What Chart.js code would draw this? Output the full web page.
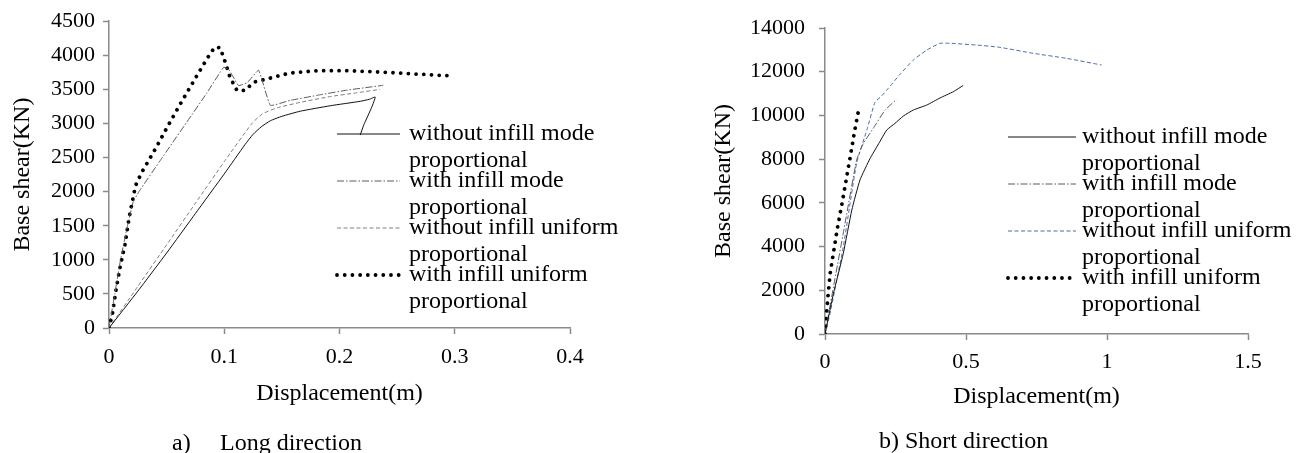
<!DOCTYPE html>
<html>
<head>
<meta charset="utf-8">
<script src="https://cdn.jsdelivr.net/npm/chart.js@4.4.1/dist/chart.umd.min.js"></script>
<style>
  html, body { margin: 0; padding: 0; background: #fff; }
  #wrap { position: relative; width: 1307px; height: 453px; overflow: hidden;
          font-family: "Liberation Serif", "Times New Roman", serif; }
  canvas { position: absolute; top: 0; }
  .cap { position: absolute; font-size: 24px; line-height: 24px; color: #000; white-space: pre; }
</style>
</head>
<body>
<div id="wrap">
  <canvas id="longChart" width="650" height="453" style="left:0px"></canvas>
  <canvas id="shortChart" width="657" height="453" style="left:650px"></canvas>
  <div class="cap" style="left:172px;top:430px">a)</div>
  <div class="cap" style="left:220px;top:430px">Long direction</div>
  <div class="cap" style="left:879px;top:428px">b) Short direction</div>
</div>
<script>
// ---- series names (legend, two lines each) ----
const seriesLabels = [
  ['without infill mode', 'proportional'],
  ['with infill mode', 'proportional'],
  ['without infill uniform', 'proportional'],
  ['with infill uniform', 'proportional']
];

// ---- a) Long direction: displacement (m) / base shear (KN) ----
const longXTicks = [0, 0.1, 0.2, 0.3, 0.4];
const longYTicks = [0, 500, 1000, 1500, 2000, 2500, 3000, 3500, 4000, 4500];

const longWoModeX = [0, 0.025, 0.05, 0.075, 0.1, 0.118, 0.125, 0.132, 0.14, 0.15, 0.166, 0.192, 0.218, 0.226, 0.231, 0.228, 0.221, 0.218];
const longWoModeY = [0, 540, 1100, 1680, 2260, 2690, 2840, 2950, 3040, 3105, 3180, 3260, 3325, 3355, 3387, 3240, 2975, 2830];

const longWiModeX = [0, 0.005, 0.01, 0.016, 0.021, 0.026, 0.045, 0.0675, 0.085, 0.0994, 0.104, 0.1124, 0.12, 0.1298, 0.14, 0.157, 0.183, 0.207, 0.238];
const longWiModeY = [0, 500, 1000, 1500, 1850, 2000, 2470, 3020, 3450, 3823, 3790, 3556, 3600, 3780, 3266, 3338, 3420, 3490, 3560];

const longWoUniX = [0, 0.025, 0.05, 0.075, 0.1, 0.124, 0.133, 0.146, 0.166, 0.192, 0.215, 0.235];
const longWoUniY = [0, 610, 1220, 1830, 2440, 3000, 3140, 3230, 3310, 3395, 3450, 3500];

const longWiUniX = [0, 0.003, 0.006, 0.0096, 0.0139, 0.0177, 0.0203, 0.023, 0.028, 0.04, 0.051, 0.062, 0.079, 0.088, 0.092, 0.0965, 0.1009, 0.105, 0.111, 0.118, 0.1255, 0.137, 0.157, 0.181, 0.207, 0.24, 0.265, 0.294];
const longWiUniY = [0, 213, 552, 891, 1231, 1642, 1860, 2088, 2270, 2620, 2960, 3290, 3780, 4030, 4120, 4110, 3895, 3677, 3484, 3484, 3605, 3653, 3740, 3774, 3774, 3750, 3726, 3700];

// ---- b) Short direction ----
const shortXTicks = [0, 0.5, 1, 1.5];
const shortYTicks = [0, 2000, 4000, 6000, 8000, 10000, 12000, 14000];

const shortWoModeX = [0, 0.03, 0.065, 0.095, 0.124, 0.16, 0.19, 0.219, 0.248, 0.278, 0.313, 0.361, 0.408, 0.455, 0.49];
const shortWoModeY = [0, 1860, 3690, 5670, 7045, 8036, 8700, 9332, 9637, 9973, 10247, 10476, 10800, 11086, 11370];

const shortWiModeX = [0, 0.03, 0.066, 0.112, 0.136, 0.171, 0.213, 0.254];
const shortWiModeY = [0, 2150, 4700, 7960, 8724, 9408, 10247, 10737];

const shortWoUniX = [0, 0.018, 0.065, 0.112, 0.15, 0.177, 0.2, 0.225, 0.266, 0.313, 0.361, 0.408, 0.443, 0.538, 0.62, 0.739, 0.857, 0.981];
const shortWoUniY = [0, 950, 3995, 7808, 9400, 10600, 10880, 11250, 11880, 12534, 12992, 13298, 13300, 13220, 13115, 12840, 12611, 12306];

const shortWiUniX = [0, 0.005, 0.01, 0.018, 0.03, 0.044, 0.06, 0.075, 0.09, 0.105, 0.122];
const shortWiUniY = [0, 800, 1650, 2750, 3720, 4850, 5950, 7050, 8150, 9280, 10450];

// ---- drawing ----
const SERIF = '"Liberation Serif", "Times New Roman", serif';
const AXIS = '#8a8a8a';

function points(xs, ys) { return xs.map((x, i) => ({ x: x, y: ys[i] })); }

// line styles for the four curves: solid, dash-dot, dashed, dotted
function seriesStyles(dashColor) {
  return [
    { borderColor: '#111', borderWidth: 1, borderDash: [], tension: 0.15 },
    { borderColor: '#5a5a5a', borderWidth: 1, borderDash: [7, 2, 1.5, 2], tension: 0.1 },
    { borderColor: dashColor, borderWidth: 1, borderDash: [4, 2.5], tension: 0.15 },
    { borderColor: '#000', borderWidth: 3.8, borderDash: [0.01, 7.7], borderCapStyle: 'round', tension: 0 }
  ];
}

function makeDatasets(seriesXY, dashColor) {
  const styles = seriesStyles(dashColor);
  return seriesXY.map((s, i) => Object.assign({
    label: seriesLabels[i].join(' '),
    data: points(s[0], s[1]),
    showLine: true,
    fill: false,
    pointRadius: 0,
    pointHoverRadius: 0
  }, styles[i]));
}

// legend: a sample line per series followed by its wrapped name
const seriesLegend = {
  id: 'seriesLegend',
  afterDraw(chart, args, opts) {
    const ctx = chart.ctx;
    ctx.save();
    ctx.font = opts.fontSize + 'px ' + SERIF;
    ctx.fillStyle = '#000';
    ctx.textBaseline = 'middle';
    ctx.textAlign = 'left';
    chart.data.datasets.forEach((ds, i) => {
      const y = opts.top + i * opts.entryGap;
      ctx.save();
      ctx.strokeStyle = ds.borderColor;
      ctx.lineWidth = ds.borderWidth;
      ctx.lineCap = ds.borderCapStyle || 'butt';
      ctx.setLineDash(ds.borderDash || []);
      ctx.beginPath();
      ctx.moveTo(opts.lineX0, y);
      ctx.lineTo(opts.lineX1, y);
      ctx.stroke();
      ctx.restore();
      seriesLabels[i].forEach((t, k) => ctx.fillText(t, opts.textX, y + k * opts.lineGap));
    });
    ctx.restore();
  }
};

function makeChart(id, cfg) {
  return new Chart(document.getElementById(id), {
    type: 'scatter',
    data: { datasets: makeDatasets(cfg.series, cfg.dashColor) },
    plugins: [seriesLegend],
    options: {
      responsive: false,
      animation: false,
      events: [],
      layout: { autoPadding: false, padding: cfg.padding },
      plugins: {
        legend: { display: false },
        tooltip: { enabled: false },
        seriesLegend: cfg.legend
      },
      scales: {
        x: {
          type: 'linear',
          min: cfg.xTicks[0],
          max: cfg.xTicks[cfg.xTicks.length - 1],
          afterBuildTicks: s => { s.ticks = cfg.xTicks.map(v => ({ value: v })); },
          afterFit: s => { s.height = cfg.xHeight; },
          ticks: { font: { family: SERIF, size: 22 }, color: '#000', padding: cfg.xTickPad,
                   maxRotation: 0, autoSkip: false, callback: v => String(v) },
          grid: { drawOnChartArea: false, drawTicks: true, tickLength: 6, tickColor: AXIS, tickWidth: 1.5 },
          border: { color: AXIS, width: 1.5 },
          title: { display: true, text: 'Displacement(m)', color: '#000',
                   font: { family: SERIF, size: 24 }, padding: { top: 0, bottom: cfg.xTitlePad } }
        },
        y: {
          type: 'linear',
          min: cfg.yTicks[0],
          max: cfg.yTicks[cfg.yTicks.length - 1],
          afterBuildTicks: s => { s.ticks = cfg.yTicks.map(v => ({ value: v })); },
          afterFit: s => { s.width = cfg.yWidth; },
          ticks: { font: { family: SERIF, size: 22 }, color: '#000', padding: cfg.yTickPad,
                   autoSkip: false, callback: v => String(v) },
          grid: { drawOnChartArea: false, drawTicks: true, tickLength: 6, tickColor: AXIS, tickWidth: 1.5 },
          border: { color: AXIS, width: 1.5 },
          title: { display: true, text: 'Base shear(KN)', color: '#000',
                   font: { family: SERIF, size: 24 }, padding: { top: cfg.yTitlePad, bottom: 0 } }
        }
      }
    }
  });
}

makeChart('longChart', {
  series: [[longWoModeX, longWoModeY], [longWiModeX, longWiModeY], [longWoUniX, longWoUniY], [longWiUniX, longWiUniY]],
  dashColor: '#7f7f7f',
  xTicks: longXTicks, yTicks: longYTicks,
  padding: { left: 0, top: 18, right: 80, bottom: 0 },
  yWidth: 109, xHeight: 125,
  xTickPad: 10, yTickPad: 8, xTitlePad: 45, yTitlePad: 8,
  legend: { lineX0: 337, lineX1: 400, textX: 409, top: 134, entryGap: 47, lineGap: 27, fontSize: 24 }
});

makeChart('shortChart', {
  series: [[shortWoModeX, shortWoModeY], [shortWiModeX, shortWiModeY], [shortWoUniX, shortWoUniY], [shortWiUniX, shortWiUniY]],
  dashColor: '#4a6aa6',
  xTicks: shortXTicks, yTicks: shortYTicks,
  padding: { left: 0, top: 28, right: 59, bottom: 0 },
  yWidth: 175, xHeight: 119,
  xTickPad: 9, yTickPad: 14, xTitlePad: 42, yTitlePad: 59,
  legend: { lineX0: 358, lineX1: 426, textX: 432, top: 137, entryGap: 47, lineGap: 27, fontSize: 24 }
});
</script>
</body>
</html>
